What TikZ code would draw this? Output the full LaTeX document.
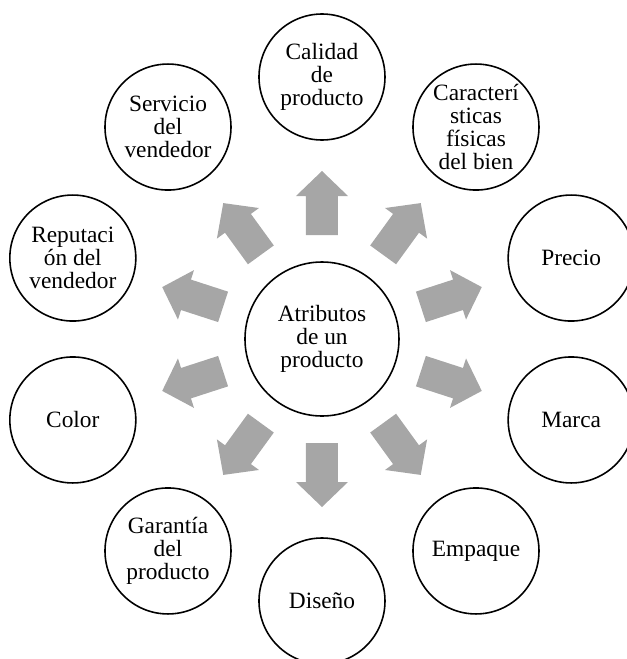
\documentclass[tikz,border=0pt]{standalone}
\usepackage{fontspec}
\setmainfont{Liberation Serif}
\usepackage{xcolor}
\definecolor{arrowgray}{HTML}{A6A6A6}
\def\orbit{5.24cm}
\def\arrowshape{(2.08,-0.32) -- (2.86,-0.32) -- (2.86,-0.52) -- (3.36,0) -- (2.86,0.52) -- (2.86,0.32) -- (2.08,0.32) -- cycle}

\begin{document}
\begin{tikzpicture}[
		attr/.style={circle, draw, line width=0.9pt, minimum size=2.52cm, inner sep=0pt, align=center},
		hub/.style={attr, minimum size=3.08cm},
		blockarrow/.style={fill=arrowgray},
	]
	\useasboundingbox (-6.44,-6.40) rectangle (6.10,6.78);
	\fontsize{13.3}{13}\selectfont
	% centre
	\node[hub] (atributos) at (0,0) {Atributos\\de un\\producto};
	% attributes around the centre
	\node[attr] (calidad) at (90:\orbit) {Calidad\\de\\producto};
	\node[attr] (caracteristicas) at (54:\orbit) {Caracterí\\sticas\\físicas\\del bien};
	\node[attr] (precio) at (18:\orbit) {Precio};
	\node[attr] (marca) at (-18:\orbit) {Marca};
	\node[attr] (empaque) at (-54:\orbit) {Empaque};
	\node[attr] (diseno) at (-90:\orbit) {Diseño};
	\node[attr] (garantia) at (-126:\orbit) {Garantía\\del\\producto};
	\node[attr] (color) at (-162:\orbit) {Color};
	\node[attr] (reputacion) at (162:\orbit) {Reputaci\\ón del\\vendedor};
	\node[attr] (servicio) at (126:\orbit) {Servicio\\del\\vendedor};
	% block arrows
	\fill[blockarrow, rotate=90] \arrowshape;
	\fill[blockarrow, rotate=54] \arrowshape;
	\fill[blockarrow, rotate=18] \arrowshape;
	\fill[blockarrow, rotate=-18] \arrowshape;
	\fill[blockarrow, rotate=-54] \arrowshape;
	\fill[blockarrow, rotate=-90] \arrowshape;
	\fill[blockarrow, rotate=-126] \arrowshape;
	\fill[blockarrow, rotate=-162] \arrowshape;
	\fill[blockarrow, rotate=162] \arrowshape;
	\fill[blockarrow, rotate=126] \arrowshape;
\end{tikzpicture}
\end{document}
